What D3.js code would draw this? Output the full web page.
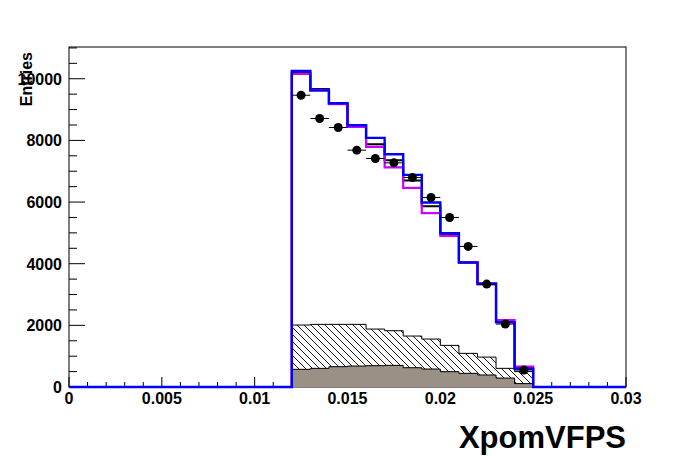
<!DOCTYPE html>
<html><head><meta charset="utf-8">
<script src="https://cdn.jsdelivr.net/npm/d3@7"></script>
<style>body{margin:0;background:#fff}svg{display:block}text{font-family:"Liberation Sans",Arial,sans-serif;font-weight:bold}</style>
</head><body><svg id="c" width="696" height="472"></svg>
<script>
// bins start at 0.012 with width 0.001
const binStart = 0.012, binWidth = 0.001;
const blueVals    = [10253, 9618, 9206, 8493, 8082, 7553, 6883, 5987, 4992, 4042, 3361, 2097, 594];
const magentaVals = [10156, 9640, 9174, 8438, 7790, 7122, 6460, 5641, 4905, 4050, 3340, 2172, 659];
const blackVals   = [10200, 9670, 9190, 8470, 7877, 7359, 6700, 5867, 4960, 4030, 3330, 2110, 610];
const dataVals    = [9466, 8710, 8419, 7683, 7414, 7271, 6798, 6149, 5500, 4561, 3339, 2042, 551];
const hatchVals   = [2010, 2032, 2032, 2032, 1880, 1826, 1653, 1556, 1350, 1091, 970, 605, 500];
const greyVals    = [573, 605, 659, 680, 691, 702, 626, 583, 497, 443, 390, 290, 110];
const xTicks = [0, 0.005, 0.01, 0.015, 0.02, 0.025, 0.03];
const xTickLabels = ["0", "0.005", "0.01", "0.015", "0.02", "0.025", "0.03"];
const yTicks = [0, 2000, 4000, 6000, 8000, 10000];
const xTitle = "XpomVFPS", yTitle = "Entries";

const L = 69, R = 626, T = 47, B = 387;
const svg = d3.select("#c");
const x = d3.scaleLinear().domain([0, 0.03]).range([L, R]);
const y = d3.scaleLinear().domain([0, 11030]).range([B, T]);

const defs = svg.append("defs");
const pat = defs.append("pattern").attr("id", "hatch").attr("patternUnits", "userSpaceOnUse")
  .attr("width", 7).attr("height", 7);
pat.append("path").attr("d", "M-1,-1L8,8M-1,6L1,8M6,-1L8,1").attr("stroke", "#000").attr("stroke-width", 0.9).attr("fill", "none");

function stepPath(vals, full) {
  const p = d3.path();
  const x0 = full ? 0 : binStart;
  p.moveTo(x(x0), y(0));
  if (full) p.lineTo(x(binStart), y(0));
  vals.forEach((v, i) => {
    p.lineTo(x(binStart + i * binWidth), y(v));
    p.lineTo(x(binStart + (i + 1) * binWidth), y(v));
  });
  const xe = binStart + vals.length * binWidth;
  p.lineTo(x(xe), y(0));
  if (full) p.lineTo(x(0.03), y(0));
  return p.toString();
}

// frame
svg.append("rect").attr("x", L).attr("y", T).attr("width", R - L).attr("height", B - T)
  .attr("fill", "none").attr("stroke", "#000").attr("stroke-width", 1);

// ticks x
const xMinor = d3.range(0, 31).map(i => i * 0.001);
xMinor.forEach(v => {
  const major = Math.abs(v / 0.005 - Math.round(v / 0.005)) < 1e-6;
  svg.append("line").attr("x1", x(v)).attr("x2", x(v)).attr("y1", B).attr("y2", B - (major ? 10 : 5))
    .attr("stroke", "#000");
});
xTicks.forEach((v, i) => {
  svg.append("text").attr("x", x(v)).attr("y", 404).attr("text-anchor", "middle")
    .attr("font-size", 16).text(xTickLabels[i]);
});
// ticks y
d3.range(0, 23).map(i => i * 500).filter(v => y(v) >= T - 0.5).forEach(v => {
  const major = v % 2000 === 0;
  svg.append("line").attr("x1", L).attr("x2", L + (major ? 16 : 8)).attr("y1", y(v)).attr("y2", y(v))
    .attr("stroke", "#000");
});
yTicks.forEach(v => {
  svg.append("text").attr("x", 62).attr("y", y(v) + 6).attr("text-anchor", "end")
    .attr("font-size", 16).text(d3.format("d")(v));
});

// hatched stack
svg.append("path").attr("d", stepPath(hatchVals, false)).attr("fill", "url(#hatch)")
  .attr("stroke", "#000").attr("stroke-width", 1);
svg.append("path").attr("d", stepPath(greyVals, false)).attr("fill", "#9b9086")
  .attr("stroke", "#000").attr("stroke-width", 1);

// histograms
svg.append("path").attr("d", stepPath(blackVals, false)).attr("fill", "none").attr("stroke", "#000").attr("stroke-width", 2);
svg.append("path").attr("d", stepPath(magentaVals, false)).attr("fill", "none").attr("stroke", "#cc00ff").attr("stroke-width", 2.2);
svg.append("path").attr("d", stepPath(blueVals, true)).attr("fill", "none").attr("stroke", "#0000ff").attr("stroke-width", 2.4);

// data points
dataVals.forEach((v, i) => {
  const x0 = binStart + i * binWidth, xc = x0 + binWidth / 2;
  svg.append("line").attr("x1", x(x0)).attr("x2", x(x0 + binWidth)).attr("y1", y(v)).attr("y2", y(v))
    .attr("stroke", "#000").attr("stroke-width", 1);
  svg.append("circle").attr("cx", x(xc)).attr("cy", y(v)).attr("r", 4.5).attr("fill", "#000");
});

// titles
svg.append("text").attr("x", R).attr("y", 448).attr("text-anchor", "end").attr("font-size", 31).text(xTitle);
svg.append("text").attr("transform", "translate(32,52) rotate(-90)").attr("text-anchor", "end")
  .attr("font-size", 16).text(yTitle);
</script></body></html>
